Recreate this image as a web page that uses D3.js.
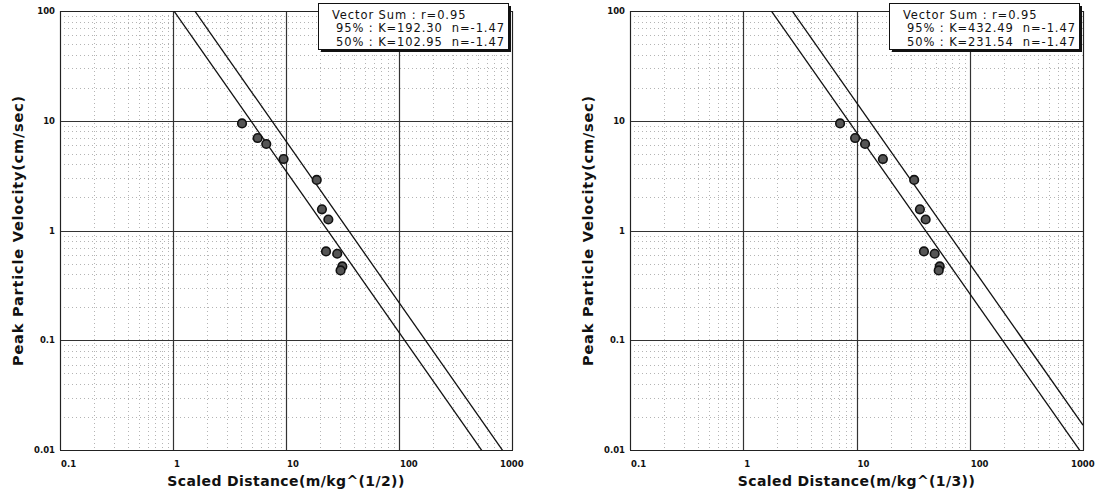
<!DOCTYPE html>
<html>
<head>
<meta charset="utf-8">
<script src="https://cdn.jsdelivr.net/npm/d3@7"></script>
<style>
  html, body { margin: 0; padding: 0; background: #fff; }
  svg { display: block; }
</style>
</head>
<body>
<svg id="chart" width="1103" height="491"></svg>
<script>
// ---- data ----
const xTickValues = [0.1, 1, 10, 100, 1000];
const yTickValues = [0.01, 0.1, 1, 10, 100];
const xTickLabels = ["0.1", "1", "10", "100", "1000"];
const yTickLabels = ["0.01", "0.1", "1", "10", "100"];

// peak particle velocity (cm/sec), same for both panels
const ppv = [9.45, 6.96, 6.14, 4.48, 2.89, 1.56, 1.26, 0.644, 0.614, 0.471, 0.433];
// scaled distance, square root scaling (m/kg^(1/2))
const sdSquareRoot = [4.08, 5.61, 6.69, 9.52, 18.7, 20.8, 23.7, 22.6, 28.4, 31.5, 30.4];
// scaled distance, cube root scaling (m/kg^(1/3))
const sdCubeRoot = [7.16, 9.72, 11.9, 17.1, 32.3, 36.3, 40.8, 39.4, 49.0, 54.3, 53.2];

const kSquareRoot = [192.30, 102.95];   // 95%, 50%
const kCubeRoot = [432.49, 231.54];     // 95%, 50%
const nExponent = -1.47;

const legendSquareRoot = ["Vector Sum : r=0.95", "95% : K=192.30  n=-1.47", "50% : K=102.95  n=-1.47"];
const legendCubeRoot = ["Vector Sum : r=0.95", "95% : K=432.49  n=-1.47", "50% : K=231.54  n=-1.47"];

const xTitles = ["Scaled Distance(m/kg^(1/2))", "Scaled Distance(m/kg^(1/3))"];
const yTitle = "Peak Particle Velocity(cm/sec)";

// ---- drawing ----
const svg = d3.select("#chart");

function panel(idx, left, right, top, bottom, sd, ks, legendLines, xTitle) {
  const g = svg.append("g");
  const x = d3.scaleLog().domain([0.1, 1000]).range([left, right]);
  const y = d3.scaleLog().domain([0.01, 100]).range([bottom, top]);

  const clipId = "clip" + idx;
  svg.append("clipPath").attr("id", clipId)
    .append("rect").attr("x", left).attr("y", top)
    .attr("width", right - left).attr("height", bottom - top);

  const isMajor = v => Math.abs(Math.log10(v) - Math.round(Math.log10(v))) < 1e-6;
  const xAll = x.ticks();
  const yAll = y.ticks();

  // minor grid
  g.append("g").selectAll("line").data(xAll.filter(v => !isMajor(v))).join("line")
    .attr("x1", d => Math.round(x(d)) + 0.5).attr("x2", d => Math.round(x(d)) + 0.5)
    .attr("y1", top).attr("y2", bottom)
    .attr("stroke", "#b4b4b4").attr("stroke-width", 1).attr("stroke-dasharray", "1,3");
  g.append("g").selectAll("line").data(yAll.filter(v => !isMajor(v))).join("line")
    .attr("y1", d => Math.round(y(d)) + 0.5).attr("y2", d => Math.round(y(d)) + 0.5)
    .attr("x1", left).attr("x2", right)
    .attr("stroke", "#b4b4b4").attr("stroke-width", 1).attr("stroke-dasharray", "1,3");

  // major grid
  g.append("g").selectAll("line").data(xTickValues).join("line")
    .attr("x1", d => Math.round(x(d)) + 0.5).attr("x2", d => Math.round(x(d)) + 0.5)
    .attr("y1", top).attr("y2", bottom)
    .attr("stroke", "#333").attr("stroke-width", 1.2);
  g.append("g").selectAll("line").data(yTickValues).join("line")
    .attr("y1", d => Math.round(y(d)) + 0.5).attr("y2", d => Math.round(y(d)) + 0.5)
    .attr("x1", left).attr("x2", right)
    .attr("stroke", "#333").attr("stroke-width", 1.2);

  // frame
  g.append("rect").attr("x", left + 0.5).attr("y", top + 0.5)
    .attr("width", right - left).attr("height", bottom - top)
    .attr("fill", "none").attr("stroke", "#222").attr("stroke-width", 1);

  // fit lines V = K * SD^n
  const lineGen = d3.line().x(d => x(d[0])).y(d => y(d[1]));
  const lg = g.append("g").attr("clip-path", `url(#${clipId})`);
  ks.forEach(k => {
    const pts = x.domain().map(s => [s, k * Math.pow(s, nExponent)]);
    lg.append("path").attr("d", lineGen(pts))
      .attr("fill", "none").attr("stroke", "#111").attr("stroke-width", 1.3);
  });

  // points
  g.append("g").selectAll("circle").data(sd.map((s, i) => [s, ppv[i]])).join("circle")
    .attr("cx", d => x(d[0])).attr("cy", d => y(d[1])).attr("r", 4.3)
    .attr("fill", "#555").attr("stroke", "#111").attr("stroke-width", 1.6);

  // tick labels
  g.append("g").selectAll("text").data(xTickValues).join("text")
    .attr("x", (d, i) => i === xTickValues.length - 1 ? x(d) - 12 : x(d) + 1)
    .attr("y", bottom + 17)
    .attr("font-family", "DejaVu Sans, sans-serif").attr("font-weight", "bold")
    .attr("font-size", 8.5).attr("fill", "#111")
    .text((d, i) => xTickLabels[i]);
  g.append("g").selectAll("text").data(yTickValues).join("text")
    .attr("x", left - 5).attr("y", d => y(d) + 3)
    .attr("text-anchor", "end")
    .attr("font-family", "DejaVu Sans, sans-serif").attr("font-weight", "bold")
    .attr("font-size", 8.5).attr("fill", "#111")
    .text((d, i) => yTickLabels[i]);

  // axis titles
  g.append("text").attr("x", (left + right) / 2).attr("y", bottom + 36)
    .attr("text-anchor", "middle")
    .attr("font-family", "DejaVu Sans, sans-serif").attr("font-weight", "bold")
    .attr("font-size", 14).attr("letter-spacing", 0.4).attr("fill", "#111")
    .text(xTitle);
  g.append("text")
    .attr("transform", `translate(${left - 37},${(top + bottom) / 2}) rotate(-90)`)
    .attr("text-anchor", "middle")
    .attr("font-family", "DejaVu Sans, sans-serif").attr("font-weight", "bold")
    .attr("font-size", 14.5).attr("letter-spacing", 0.8).attr("fill", "#111")
    .text(yTitle);

  // legend box
  const bw = 190, bh = 46;
  const bx = right - 4 - bw, by = 3;
  g.append("rect").attr("x", bx + 3).attr("y", by + 3).attr("width", bw).attr("height", bh)
    .attr("fill", "#111");
  g.append("rect").attr("x", bx + 0.5).attr("y", by + 0.5).attr("width", bw).attr("height", bh)
    .attr("fill", "#fff").attr("stroke", "#111").attr("stroke-width", 1);
  g.append("g").selectAll("text").data(legendLines).join("text")
    .attr("x", (d, i) => bx + (i === 0 ? 14 : 18))
    .attr("y", (d, i) => by + 15.5 + i * 13.6)
    .attr("font-family", "DejaVu Sans, sans-serif")
    .attr("font-size", 11.5).attr("letter-spacing", 0.9).attr("fill", "#111")
    .attr("xml:space", "preserve").style("white-space", "pre")
    .text(d => d);
}

panel(0, 60, 512, 11, 450, sdSquareRoot, kSquareRoot, legendSquareRoot, xTitles[0]);
panel(1, 630, 1083, 11, 450, sdCubeRoot, kCubeRoot, legendCubeRoot, xTitles[1]);
</script>
</body>
</html>
